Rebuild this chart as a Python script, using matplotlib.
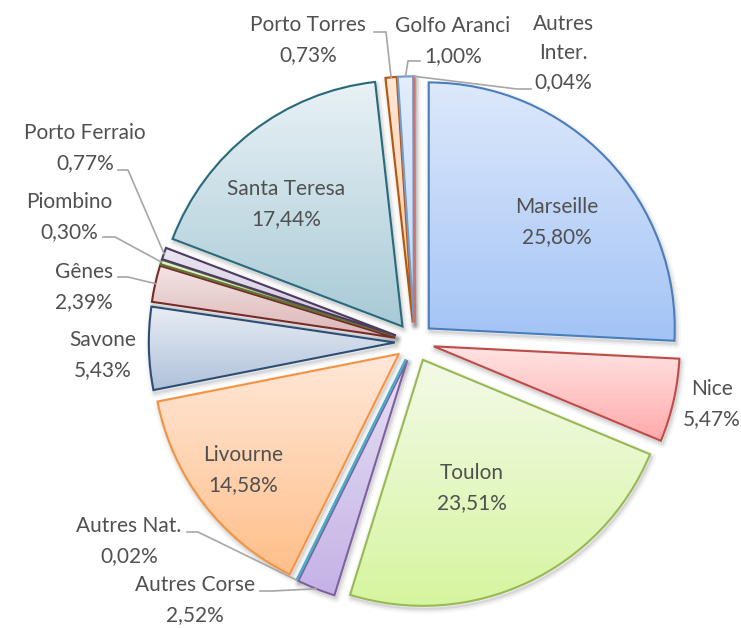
import numpy as np
import matplotlib.pyplot as plt
from matplotlib.colors import to_rgb
from matplotlib.patches import Wedge

plt.rcParams['font.family'] = ['Lato', 'DejaVu Sans']

# data, clockwise from 12 o'clock
ports = ["Marseille", "Nice", "Toulon", "Autres Corse", "Autres Nat.", "Livourne",
         "Savone", "Gênes", "Piombino", "Porto Ferraio", "Santa Teresa",
         "Porto Torres", "Golfo Aranci", "Autres\nInter."]
shares = [25.80, 5.47, 23.51, 2.52, 0.02, 14.58, 5.43, 2.39, 0.30, 0.77, 17.44,
          0.73, 1.00, 0.04]

# (top colour, bottom colour, edge colour)
styles = [
    ("#dde9fb", "#a3c3f6", "#4a7ebb"),
    ("#ffe4e4", "#ffa9a9", "#be4b48"),
    ("#f3fae8", "#d6f59f", "#98b954"),
    ("#e7e0f3", "#c4b2e6", "#7d60a0"),
    ("#c8eaf4", "#8fd0e3", "#4bacc6"),
    ("#ffe8d9", "#ffbf8a", "#f69240"),
    ("#e9edf4", "#afc1da", "#2c4d75"),
    ("#f4e4e4", "#dbb5b5", "#772c2a"),
    ("#e8f0d8", "#c8dba6", "#5f7530"),
    ("#ebe6f1", "#cfc5dc", "#4d3b62"),
    ("#e9f2f5", "#a8cad6", "#276a7c"),
    ("#ffe6d6", "#ffc9a8", "#b65708"),
    ("#e3edfb", "#c1d6f4", "#729aca"),
    ("#fbe4e4", "#f2c0c0", "#cd7371"),
]

# reference geometry in pixels
CX, CY, R = 414.5, 342, 246
W, H = 741, 628


def px(x, y):
    return (x - CX) / R, (CY - y) / R


# label block centres (pixels)
label_pos = {
    "Marseille": (557, 222), "Nice": (712, 404), "Toulon": (472, 488),
    "Autres Corse": (195, 600), "Autres Nat.": (129, 541), "Livourne": (243, 470),
    "Savone": (103, 355), "Gênes": (84, 287), "Piombino": (69, 217),
    "Porto Ferraio": (85, 148), "Santa Teresa": (286, 204),
    "Porto Torres": (308, 40), "Golfo Aranci": (453, 41), "Autres\nInter.": (563, 53),
}
# leader lines: text end, elbow (pixels) -> slice edge
leaders = {
    "Porto Torres": ((374, 32), (386, 32)),
    "Golfo Aranci": ((420, 61), (408, 61)),
    "Autres\nInter.": ((531, 89), (517, 89)),
    "Porto Ferraio": ((118, 170), (128, 170)),
    "Piombino": ((103, 237), (115, 237)),
    "Gênes": ((118, 277), (128, 277)),
    "Autres Nat.": ((187, 532), (198, 532)),
    "Autres Corse": ((260, 591), (272, 591)),
}

explode = 0.08
fig = plt.figure(figsize=(W / 100, H / 100), dpi=100)
ax = fig.add_axes([0, 0, 1, 1])

wedges, _ = ax.pie(shares, startangle=90, counterclock=False,
                   explode=[explode] * len(shares), radius=1,
                   wedgeprops=dict(facecolor="none", linewidth=1.5))

for w, (top, bot, edge) in zip(wedges, styles):
    w.set_edgecolor(edge)
    w.set_zorder(3)
    # soft shadow
    for k, lw in enumerate([7, 4, 1.5]):
        sh = Wedge((w.center[0] + 1.5 / R, w.center[1] - 3 / R), w.r, w.theta1, w.theta2,
                   facecolor="none", edgecolor="black", lw=lw, alpha=0.035 + 0.02 * k,
                   zorder=1, joinstyle="round")
        ax.add_patch(sh)
    ext = w.get_path().get_extents()
    grad = np.linspace(0, 1, 256)[:, None, None]
    img = (1 - grad) * np.array(to_rgb(bot)) + grad * np.array(to_rgb(top))
    im = ax.imshow(img, extent=(ext.x0, ext.x1, ext.y0, ext.y1), origin="lower",
                   aspect="auto", zorder=2, interpolation="bilinear")
    im.set_clip_path(w)

for w, name, v in zip(wedges, ports, shares):
    txt = name + "\n" + f"{v:.2f}%".replace(".", ",")
    x, y = px(*label_pos[name])
    ax.text(x, y, txt, ha="center", va="center", fontsize=15, color="#505050",
            linespacing=1.58, zorder=5)
    if name in leaders:
        mid = np.deg2rad((w.theta1 + w.theta2) / 2)
        ex = (1 + explode) * np.cos(mid)
        ey = (1 + explode) * np.sin(mid)
        (x0, y0), (x1, y1) = [px(*p) for p in leaders[name]]
        ax.plot([x0, x1, ex], [y0, y1, ey], color="#a6a6a6", lw=1.2, zorder=4)

ax.set_xlim(-CX / R, (W - CX) / R)
ax.set_ylim(-(H - CY) / R, CY / R)
ax.set_aspect("equal")
ax.axis("off")

fig.savefig("out.png", dpi=100)
